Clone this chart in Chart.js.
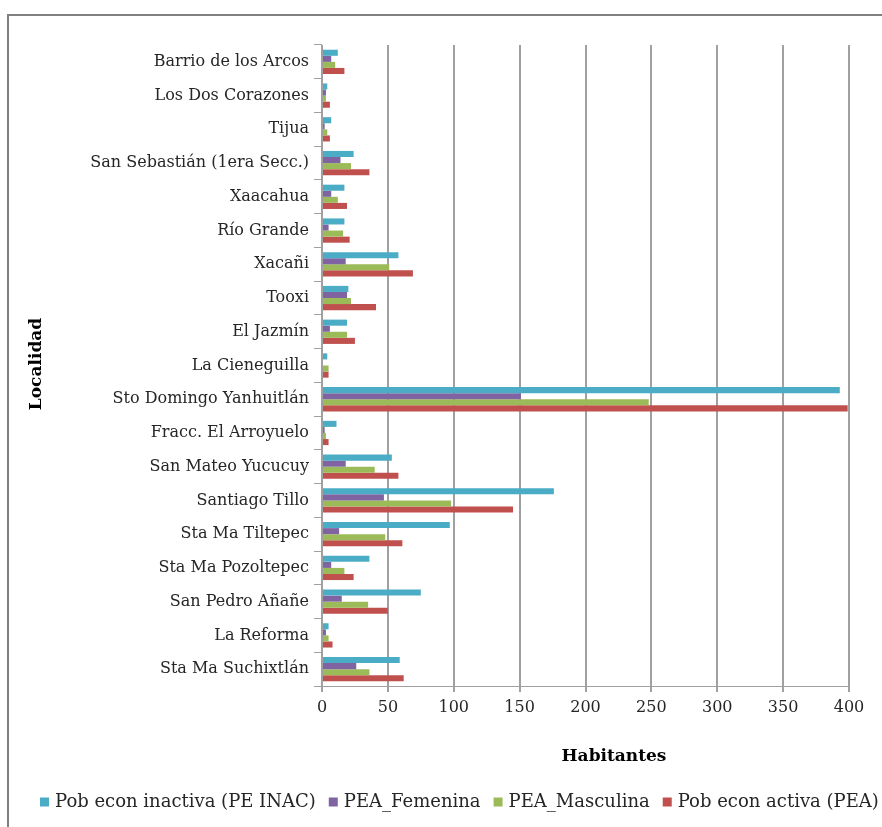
<!DOCTYPE html>
<html>
<head>
<meta charset="utf-8">
<script src="https://cdn.jsdelivr.net/npm/chart.js@4/dist/chart.umd.min.js"></script>
<style>
  html, body { margin: 0; padding: 0; background: #ffffff; }
  #wrap { width: 882px; height: 827px; position: relative; }
</style>
</head>
<body>
<div id="wrap"><canvas id="c"></canvas></div>
<script>
// Localities (top to bottom)
const localidades = [
  'Barrio de los Arcos',
  'Los Dos Corazones',
  'Tijua',
  'San Sebastián (1era Secc.)',
  'Xaacahua',
  'Río Grande',
  'Xacañi',
  'Tooxi',
  'El Jazmín',
  'La Cieneguilla',
  'Sto Domingo Yanhuitlán',
  'Fracc. El Arroyuelo',
  'San Mateo Yucucuy',
  'Santiago Tillo',
  'Sta Ma Tiltepec',
  'Sta Ma Pozoltepec',
  'San Pedro Añañe',
  'La Reforma',
  'Sta Ma Suchixtlán'
];

// Population counts per locality
const pobInactiva = [12, 4, 7, 24, 17, 17, 58, 20, 19, 4, 393, 11, 53, 176, 97, 36, 75, 5, 59];
const peaFemenina = [7, 3, 2, 14, 7, 5, 18, 19, 6, 0, 151, 2, 18, 47, 13, 7, 15, 3, 26];
const peaMasculina = [10, 3, 4, 22, 12, 16, 51, 22, 19, 5, 248, 3, 40, 98, 48, 17, 35, 5, 36];
const pobActiva = [17, 6, 6, 36, 19, 21, 69, 41, 25, 5, 399, 5, 58, 145, 61, 24, 50, 8, 62];

// Series names and colours
const seriesNames = ['Pob econ inactiva (PE INAC)', 'PEA_Femenina', 'PEA_Masculina', 'Pob econ activa (PEA)'];
const seriesColors = ['#4bacc6', '#8064a2', '#9bbb59', '#c0504d'];

// Value axis
const xMin = 0, xMax = 400, xStep = 50;

const SERIF = "'DejaVu Serif', 'Liberation Serif', serif";
const TEXT = '#262626';

// Outer frame, axis titles and legend
const decorations = {
  id: 'decorations',
  afterDraw(chart) {
    const ctx = chart.ctx;
    ctx.save();
    // frame
    ctx.strokeStyle = '#808080';
    ctx.lineWidth = 2;
    ctx.beginPath();
    ctx.moveTo(8, 827);
    ctx.lineTo(8, 15);
    ctx.lineTo(882, 15);
    ctx.stroke();

    // axis titles
    ctx.fillStyle = '#000';
    ctx.font = 'bold 17px ' + SERIF;
    ctx.textAlign = 'center';
    ctx.textBaseline = 'middle';
    ctx.fillText('Habitantes', 614, 757);
    ctx.save();
    ctx.translate(37, 364);
    ctx.rotate(-Math.PI / 2);
    ctx.fillText('Localidad', 0, 0);
    ctx.restore();

    // legend
    ctx.font = '18px ' + SERIF;
    ctx.textAlign = 'left';
    const box = 9, gapBox = 6, gapItem = 13;
    let x = 40;
    const y = 802;
    chart.data.datasets.forEach(d => {
      ctx.fillStyle = d.backgroundColor;
      ctx.fillRect(x, y - box / 2, box, box);
      ctx.fillStyle = TEXT;
      ctx.fillText(d.label, x + box + gapBox, y);
      x += box + gapBox + ctx.measureText(d.label).width + gapItem;
    });
    ctx.restore();
  }
};

const values = [pobInactiva, peaFemenina, peaMasculina, pobActiva];

new Chart(document.getElementById('c'), {
  type: 'bar',
  data: {
    labels: localidades,
    datasets: seriesNames.map((name, i) => ({
      label: name,
      data: values[i],
      backgroundColor: seriesColors[i],
      borderWidth: 0,
      barPercentage: 1,
      categoryPercentage: 0.72
    }))
  },
  options: {
    indexAxis: 'y',
    responsive: true,
    maintainAspectRatio: false,
    animation: false,
    layout: { padding: { top: 45, right: 33, left: 0, bottom: 0 } },
    plugins: {
      legend: { display: false },
      tooltip: { enabled: false }
    },
    scales: {
      x: {
        min: xMin,
        max: xMax,
        afterFit(scale) { scale.height = 141; },
        ticks: {
          stepSize: xStep,
          color: TEXT,
          font: { family: SERIF, size: 16 },
          padding: 6,
          maxRotation: 0
        },
        grid: {
          color: '#a0a0a0',
          lineWidth: 2,
          tickLength: 6,
          drawTicks: true
        },
        border: { color: '#a0a0a0', width: 1 }
      },
      y: {
        afterFit(scale) { scale.width = 322; },
        ticks: {
          color: TEXT,
          font: { family: SERIF, size: 16 },
          padding: 5,
          autoSkip: false
        },
        grid: {
          drawOnChartArea: false,
          drawTicks: true,
          tickLength: 8,
          color: '#a0a0a0',
          offset: true
        },
        border: { color: '#a0a0a0', width: 1 }
      }
    }
  },
  plugins: [decorations]
});
</script>
</body>
</html>
